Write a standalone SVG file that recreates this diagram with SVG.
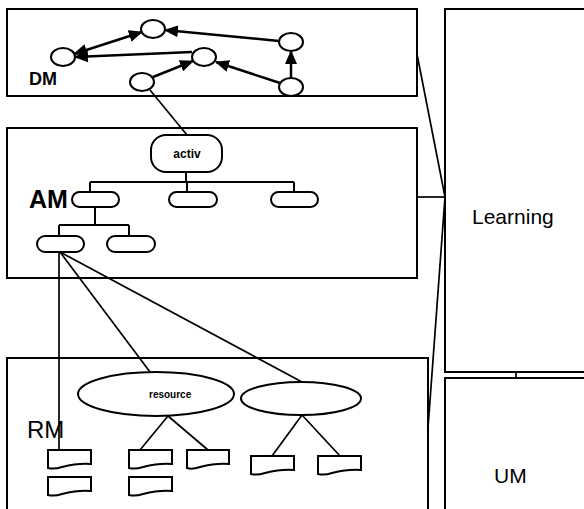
<svg xmlns="http://www.w3.org/2000/svg" width="584" height="509" viewBox="0 0 584 509">
  <style>
    .box { fill: #fff; stroke: #000; stroke-width: 2; }
    .node { fill: #fff; stroke: #000; stroke-width: 2; }
    .pill { fill: #fff; stroke: #000; stroke-width: 2; }
    .doc { fill: #fff; stroke: #000; stroke-width: 2; stroke-linejoin: miter; }
    .arrow { stroke: #000; stroke-width: 2.5; fill: none; marker-end: url(#head); }
    .link { stroke: #000; stroke-width: 1.7; fill: none; }
    .tree { stroke: #000; stroke-width: 2; fill: none; }
    .lbl { font-family: "Liberation Sans", Arial, sans-serif; fill: #000; }
  </style>
  <defs>
    <marker id="head" markerUnits="userSpaceOnUse" markerWidth="14" markerHeight="12" refX="13" refY="6" orient="auto-start-reverse">
      <path d="M0,0 L14,6 L0,12 Z" fill="#000"/>
    </marker>
  </defs>

  <rect width="584" height="509" fill="#fff"/>

  <!-- module boxes -->
  <g id="dm">
    <rect class="box" x="7" y="9" width="410" height="87"/>
    <text class="lbl" x="29" y="85" font-size="18" font-weight="bold">DM</text>
  </g>
  <g id="am">
    <rect class="box" x="7" y="128" width="410" height="150"/>
    <text class="lbl" x="29" y="208" font-size="25" font-weight="bold">AM</text>
  </g>
  <g id="rm">
    <rect class="box" x="7" y="358" width="421" height="160"/>
    <text class="lbl" x="27" y="438" font-size="24">RM</text>
  </g>
  <g id="learning">
    <rect class="box" x="445" y="9" width="150" height="363"/>
    <text class="lbl" x="472" y="224" font-size="21">Learning</text>
  </g>
  <g id="um">
    <rect class="box" x="445" y="378" width="150" height="140"/>
    <text class="lbl" x="494" y="483" font-size="21">UM</text>
  </g>

  <!-- connectors -->
  <g id="connectors">
    <!-- domain graph arrows -->
    <line class="arrow" x1="74" y1="54" x2="142" y2="32" marker-start="url(#head)"/>
    <line class="arrow" x1="279" y1="41" x2="165" y2="30"/>
    <line class="arrow" x1="192" y1="52" x2="75" y2="57"/>
    <line class="arrow" x1="153" y1="77" x2="193" y2="61"/>
    <line class="arrow" x1="280" y1="83" x2="216" y2="62"/>
    <line class="arrow" x1="291" y1="78" x2="291" y2="51"/>
    <!-- domain to activity -->
    <line class="link" x1="150" y1="90" x2="187" y2="135"/>
    <!-- activity tree -->
    <path class="tree" d="M186,172 V182 M90,182 H294 M90,182 V192 M187,182 V192 M294,182 V192"/>
    <path class="tree" d="M95,207 V225 M59,225 H129 M59,225 V236 M129,225 V236"/>
    <!-- activity to resources -->
    <line class="link" x1="59" y1="252" x2="59" y2="450"/>
    <line class="link" x1="60" y1="252" x2="150" y2="372"/>
    <line class="link" x1="60" y1="252" x2="302" y2="382"/>
    <!-- resource trees -->
    <path class="link" d="M168,416 L140,450 M168,416 L208,450"/>
    <path class="link" d="M302,415 L272,456 M302,415 L340,456"/>
    <!-- modules to learning -->
    <line class="link" x1="417" y1="54" x2="445" y2="197"/>
    <line class="link" x1="417" y1="197" x2="445" y2="197"/>
    <line class="link" x1="445" y1="197" x2="428" y2="428"/>
    <line class="link" x1="516" y1="372" x2="516" y2="378"/>
  </g>

  <!-- domain concepts -->
  <g id="concept-a"><ellipse class="node" cx="63" cy="57" rx="12" ry="9"/></g>
  <g id="concept-b"><ellipse class="node" cx="153" cy="29" rx="12" ry="9"/></g>
  <g id="concept-c"><ellipse class="node" cx="204" cy="57" rx="12" ry="9"/></g>
  <g id="concept-d"><ellipse class="node" cx="291" cy="42" rx="12" ry="9"/></g>
  <g id="concept-e"><ellipse class="node" cx="142" cy="82" rx="12" ry="9"/></g>
  <g id="concept-f"><ellipse class="node" cx="291" cy="87" rx="12" ry="9"/></g>

  <!-- activities -->
  <g id="activ">
    <rect class="node" x="151" y="135" width="71" height="37" rx="15" ry="15"/>
    <text class="lbl" x="187" y="158" font-size="12" font-weight="bold" text-anchor="middle">activ</text>
  </g>
  <g id="act-1"><rect class="pill" x="72" y="192" width="47" height="15" rx="7.5"/></g>
  <g id="act-2"><rect class="pill" x="169" y="192" width="48" height="15" rx="7.5"/></g>
  <g id="act-3"><rect class="pill" x="271" y="192" width="47" height="15" rx="7.5"/></g>
  <g id="act-4"><rect class="pill" x="37" y="236" width="47" height="16" rx="8"/></g>
  <g id="act-5"><rect class="pill" x="107" y="236" width="48" height="16" rx="8"/></g>

  <!-- resources -->
  <g id="resource">
    <ellipse class="node" cx="156" cy="394" rx="78" ry="22"/>
    <text class="lbl" x="149" y="398" font-size="10" font-weight="bold">resource</text>
  </g>
  <g id="resource-2"><ellipse class="node" cx="301" cy="398.5" rx="60" ry="16.5"/></g>

  <!-- documents: rectangle with a wavy lower edge -->
  <g id="doc-1"><path class="doc" d="M48,450 H91 V464 C80,463 70,465 62,467 C56,469 52,469 48,468 Z"/></g>
  <g id="doc-2"><path class="doc" d="M48,477 H91 V491 C80,490 70,492 62,494 C56,496 52,496 48,495 Z"/></g>
  <g id="doc-3"><path class="doc" d="M129,450 H172 V464 C161,463 151,465 143,467 C137,469 133,469 129,468 Z"/></g>
  <g id="doc-4"><path class="doc" d="M129,477 H172 V491 C161,490 151,492 143,494 C137,496 133,496 129,495 Z"/></g>
  <g id="doc-5"><path class="doc" d="M187,450 H229 V464 C218,463 208,465 200,467 C194,469 190,469 187,468 Z"/></g>
  <g id="doc-6"><path class="doc" d="M251,456 H294 V470 C283,469 273,471 265,473 C259,475 255,475 251,474 Z"/></g>
  <g id="doc-7"><path class="doc" d="M318,456 H361 V470 C350,469 340,471 332,473 C326,475 322,475 318,474 Z"/></g>
</svg>
